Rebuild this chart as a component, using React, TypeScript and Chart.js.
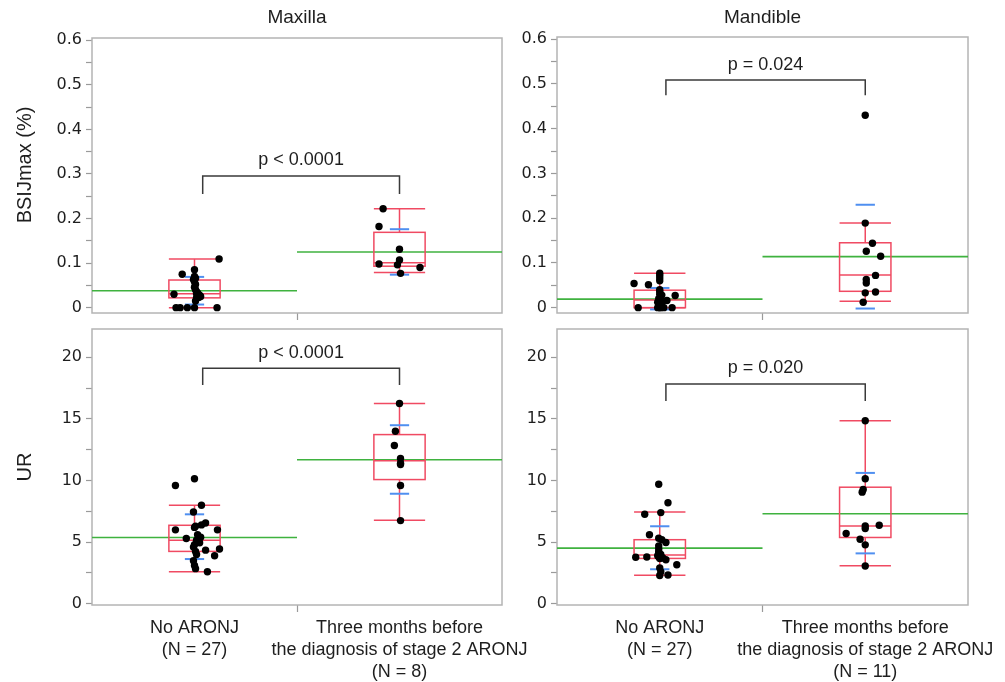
import React, { useEffect, useRef } from "react";
import { Chart, registerables } from "chart.js";

Chart.register(...registerables);

// ---------------- data ----------------
const categories = ["No ARONJ", "Three months before the diagnosis of stage 2 ARONJ"];

const xLabelsMaxilla = [["No ARONJ", "(N = 27)"], ["Three months before", "the diagnosis of stage 2 ARONJ", "(N = 8)"]];
const xLabelsMandible = [["No ARONJ", "(N = 27)"], ["Three months before", "the diagnosis of stage 2 ARONJ", "(N = 11)"]];

const bsiTickValues = [0, 0.05, 0.1, 0.15, 0.2, 0.25, 0.3, 0.35, 0.4, 0.45, 0.5, 0.55, 0.6];
const bsiTickLabels = ["0", "", "0.1", "", "0.2", "", "0.3", "", "0.4", "", "0.5", "", "0.6"];
const urTickValues = [0, 2.5, 5, 7.5, 10, 12.5, 15, 17.5, 20];
const urTickLabels = ["0", "", "5", "", "10", "", "15", "", "20"];

// Maxilla BSIJmax
const maxBsiNo = [0.109, 0.085, 0.075, 0.07, 0.066, 0.064, 0.063, 0.058, 0.052, 0.046, 0.04, 0.036, 0.033, 0.031, 0.03, 0.029, 0.028, 0.027, 0.025, 0.023, 0.022, 0.015, 0, 0, 0, 0, 0];
const maxBsiNoJitter = [0.12, 0, -0.06, 0, 0.005, 0, -0.005, 0, 0.005, 0, 0.005, 0.01, 0.015, 0.01, -0.1, 0.02, 0.025, 0.015, 0.03, 0.02, 0.01, 0.005, -0.09, -0.07, -0.035, 0, 0.11];
const maxBsiPre = [0.222, 0.182, 0.131, 0.107, 0.098, 0.096, 0.09, 0.077];
const maxBsiPreJitter = [-0.08, -0.1, 0, 0, -0.1, -0.01, 0.1, 0.005];
const maxBsiNoBox = [0, 0.022, 0.031, 0.062, 0.109];
const maxBsiPreBox = [0.079, 0.093, 0.101, 0.169, 0.222];
const maxBsiMeans = [0.038, 0.125];
const maxBsiNoSd = [0.007, 0.069];
const maxBsiPreSd = [0.074, 0.176];

// Mandible BSIJmax
const manBsiNo = [0.077, 0.072, 0.066, 0.06, 0.054, 0.051, 0.04, 0.036, 0.03, 0.028, 0.027, 0.024, 0.02, 0.017, 0.016, 0.015, 0.012, 0.01, 0.006, 0.003, 0.001, 0, 0, 0, 0, 0, 0];
const manBsiNoJitter = [0, 0, 0, 0, -0.125, -0.055, 0, 0, 0, 0.01, 0.075, 0.005, -0.005, 0.005, 0.035, 0, -0.01, 0.01, 0, 0.005, 0, -0.105, -0.01, 0.005, 0, 0.02, 0.06];
const manBsiPre = [0.43, 0.189, 0.144, 0.126, 0.115, 0.072, 0.063, 0.055, 0.035, 0.033, 0.012];
const manBsiPreJitter = [0, 0, 0.035, 0.005, 0.075, 0.05, 0.005, 0.005, 0.05, 0, -0.01];
const manBsiNoBox = [0, 0, 0.017, 0.039, 0.077];
const manBsiPreBox = [0.014, 0.0365, 0.073, 0.145, 0.189];
const manBsiMeans = [0.019, 0.114];
const manBsiNoSd = [-0.004, 0.044];
const manBsiPreSd = [-0.002, 0.23];

// Maxilla UR
const maxUrNo = [10.15, 9.6, 8.0, 7.45, 6.55, 6.4, 6.3, 6.2, 6.0, 6.0, 5.6, 5.4, 5.3, 5.15, 5.05, 4.95, 4.8, 4.6, 4.45, 4.35, 4.25, 4.0, 3.9, 3.5, 3.1, 2.85, 2.6];
const maxUrNoJitter = [0, -0.093, 0.034, -0.005, 0.054, 0.034, 0.005, 0, -0.093, 0.112, 0.015, 0.03, -0.04, 0.01, 0.02, 0.025, 0, -0.005, 0.122, 0.054, 0.005, 0.01, 0.098, -0.005, 0, 0.005, 0.063];
const maxUrPre = [16.25, 14.0, 12.85, 11.8, 11.4, 11.3, 9.6, 6.75];
const maxUrPreJitter = [0, -0.02, -0.025, 0.005, 0.005, 0.005, 0.005, 0.005];
const maxUrNoBox = [2.6, 4.25, 5.15, 6.37, 8.0];
const maxUrPreBox = [6.77, 10.08, 11.6, 13.73, 16.26];
const maxUrMeans = [5.38, 11.69];
const maxUrNoSd = [3.63, 7.26];
const maxUrPreSd = [8.93, 14.49];

// Mandible UR
const manUrNo = [9.7, 8.2, 7.4, 7.26, 5.6, 5.32, 5.2, 4.97, 4.7, 4.44, 4.22, 4.1, 4.0, 3.95, 3.9, 3.85, 3.82, 3.8, 3.77, 3.72, 3.68, 3.57, 3.17, 2.9, 2.6, 2.34, 2.3];
const manUrNoJitter = [-0.005, 0.04, 0.005, -0.073, -0.05, -0.005, 0.01, 0.03, -0.005, -0.005, -0.005, -0.005, 0.005, 0, -0.01, 0.005, -0.005, -0.063, -0.117, 0.015, 0, 0.03, 0.083, 0, 0.005, 0.04, 0];
const manUrPre = [14.85, 10.15, 9.27, 9.06, 6.37, 6.32, 6.1, 5.7, 5.24, 4.78, 3.07];
const manUrPreJitter = [0, 0, -0.01, -0.015, 0.068, 0, 0, -0.093, -0.025, 0, 0];
const manUrNoBox = [2.31, 3.68, 3.95, 5.2, 7.44];
const manUrPreBox = [3.09, 5.38, 6.32, 9.46, 14.86];
const manUrMeans = [4.52, 7.31];
const manUrNoSd = [2.8, 6.29];
const manUrPreSd = [4.09, 10.62];

const pValues = ["p < 0.0001", "p = 0.024", "p < 0.0001", "p = 0.020"];

// ---------------- styles ----------------
const RED = "#f04a62";
const BLUE = "#4f8ff0";
const GREEN = "#3fb23f";
const FRAME = "#b4b4b4";
const TICK = "#9a9a9a";
const TEXT = "#1e1e1e";
const SANS = "'Liberation Sans', Arial, sans-serif";
const VERDANA = "'DejaVu Sans', Verdana, sans-serif";
const BOX_HALF = 0.125;
const SD_HALF = 0.047;

type Group = { values: number[]; jitter: number[]; box: number[]; mean: number; sd: number[] };
type Spec = {
  key: string;
  left: number; top: number; w: number; h: number;
  area: { left: number; top: number; right: number; bottom: number };
  yMin: number; yMax: number;
  yTicks: number[]; yLabels: string[];
  xLabels: string[][] | null;
  groups: Group[];
  bracket: { x0: number; x1: number; low: number; high: number; textY: number; text: string };
  title?: string;
  yTitle?: { text: string; x: number; y: number };
};

function grp(values: number[], jitter: number[], box: number[], mean: number, sd: number[]): Group {
  return { values, jitter, box, mean, sd };
}

const specs: Spec[] = [
  {
    key: "tl", left: 0, top: 0, w: 540, h: 320,
    area: { left: 92, top: 38, right: 502, bottom: 313 },
    yMin: -0.012, yMax: 0.605, yTicks: bsiTickValues, yLabels: bsiTickLabels, xLabels: null,
    groups: [
      grp(maxBsiNo, maxBsiNoJitter, maxBsiNoBox, maxBsiMeans[0], maxBsiNoSd),
      grp(maxBsiPre, maxBsiPreJitter, maxBsiPreBox, maxBsiMeans[1], maxBsiPreSd),
    ],
    bracket: { x0: 0.54, x1: 1.5, low: 0.255, high: 0.2955, textY: 0.331, text: pValues[0] },
    title: "Maxilla",
    yTitle: { text: "BSIJmax (%)", x: 25, y: 165 },
  },
  {
    key: "tr", left: 505, top: 0, w: 500, h: 320,
    area: { left: 52, top: 37, right: 463, bottom: 313 },
    yMin: -0.012, yMax: 0.605, yTicks: bsiTickValues, yLabels: bsiTickLabels, xLabels: null,
    groups: [
      grp(manBsiNo, manBsiNoJitter, manBsiNoBox, manBsiMeans[0], manBsiNoSd),
      grp(manBsiPre, manBsiPreJitter, manBsiPreBox, manBsiMeans[1], manBsiPreSd),
    ],
    bracket: { x0: 0.53, x1: 1.5, low: 0.475, high: 0.509, textY: 0.542, text: pValues[1] },
    title: "Mandible",
  },
  {
    key: "bl", left: 0, top: 320, w: 540, h: 362,
    area: { left: 92, top: 9, right: 502, bottom: 285 },
    yMin: -0.1, yMax: 22.3, yTicks: urTickValues, yLabels: urTickLabels, xLabels: xLabelsMaxilla,
    groups: [
      grp(maxUrNo, maxUrNoJitter, maxUrNoBox, maxUrMeans[0], maxUrNoSd),
      grp(maxUrPre, maxUrPreJitter, maxUrPreBox, maxUrMeans[1], maxUrPreSd),
    ],
    bracket: { x0: 0.54, x1: 1.5, low: 17.76, high: 19.11, textY: 20.33, text: pValues[2] },
    yTitle: { text: "UR", x: 25, y: 147 },
  },
  {
    key: "br", left: 505, top: 320, w: 500, h: 362,
    area: { left: 52, top: 9, right: 463, bottom: 285 },
    yMin: -0.1, yMax: 22.3, yTicks: urTickValues, yLabels: urTickLabels, xLabels: xLabelsMandible,
    groups: [
      grp(manUrNo, manUrNoJitter, manUrNoBox, manUrMeans[0], manUrNoSd),
      grp(manUrPre, manUrPreJitter, manUrPreBox, manUrMeans[1], manUrPreSd),
    ],
    bracket: { x0: 0.53, x1: 1.5, low: 16.46, high: 17.84, textY: 19.11, text: pValues[3] },
  },
];

function makePlugin(spec: Spec) {
  const line = (ctx: CanvasRenderingContext2D, x0: number, y0: number, x1: number, y1: number) => {
    ctx.beginPath();
    ctx.moveTo(x0, y0);
    ctx.lineTo(x1, y1);
    ctx.stroke();
  };
  return {
    id: "panelDecor_" + spec.key,
    beforeDatasetsDraw(chart: any) {
      const { ctx, chartArea: a, scales } = chart;
      const xs = scales.x;
      const ys = scales.y;
      ctx.save();
      // frame
      ctx.strokeStyle = FRAME;
      ctx.lineWidth = 1.5;
      ctx.strokeRect(a.left, a.top, a.right - a.left, a.bottom - a.top);
      // mean lines
      spec.groups.forEach((g, i) => {
        const ym = ys.getPixelForValue(g.mean);
        ctx.strokeStyle = GREEN;
        ctx.lineWidth = 1.6;
        line(ctx, xs.getPixelForValue(i), ym, xs.getPixelForValue(i + 1), ym);
      });
      // box plots
      spec.groups.forEach((g, i) => {
        const c = i + 0.5;
        const xl = xs.getPixelForValue(c - BOX_HALF);
        const xr = xs.getPixelForValue(c + BOX_HALF);
        const xc = xs.getPixelForValue(c);
        const [lo, q1, med, q3, hi] = g.box.map((v) => ys.getPixelForValue(v));
        ctx.strokeStyle = RED;
        ctx.lineWidth = 1.5;
        ctx.strokeRect(xl, q3, xr - xl, q1 - q3);
        line(ctx, xl, med, xr, med);
        line(ctx, xc, q3, xc, hi);
        line(ctx, xc, q1, xc, lo);
        line(ctx, xl, hi, xr, hi);
        line(ctx, xl, lo, xr, lo);
        ctx.strokeStyle = BLUE;
        ctx.lineWidth = 2;
        const bl = xs.getPixelForValue(c - SD_HALF);
        const br = xs.getPixelForValue(c + SD_HALF);
        g.sd.forEach((v) => {
          const yv = ys.getPixelForValue(v);
          line(ctx, bl, yv, br, yv);
        });
      });
      // bracket
      const b = spec.bracket;
      const bx0 = xs.getPixelForValue(b.x0);
      const bx1 = xs.getPixelForValue(b.x1);
      const byLow = ys.getPixelForValue(b.low);
      const byHigh = ys.getPixelForValue(b.high);
      ctx.strokeStyle = "#3a3a3a";
      ctx.lineWidth = 1.5;
      ctx.beginPath();
      ctx.moveTo(bx0, byLow);
      ctx.lineTo(bx0, byHigh);
      ctx.lineTo(bx1, byHigh);
      ctx.lineTo(bx1, byLow);
      ctx.stroke();
      ctx.fillStyle = TEXT;
      ctx.font = `18px ${SANS}`;
      ctx.textAlign = "center";
      ctx.textBaseline = "middle";
      ctx.fillText(b.text, (bx0 + bx1) / 2, ys.getPixelForValue(b.textY));
      ctx.restore();
    },
    afterDraw(chart: any) {
      const { ctx, chartArea: a } = chart;
      ctx.save();
      ctx.fillStyle = TEXT;
      ctx.textAlign = "center";
      ctx.textBaseline = "middle";
      if (spec.title) {
        ctx.font = `19px ${SANS}`;
        ctx.fillText(spec.title, (a.left + a.right) / 2, 18);
      }
      if (spec.yTitle) {
        ctx.font = `20px ${SANS}`;
        ctx.translate(spec.yTitle.x, spec.yTitle.y);
        ctx.rotate(-Math.PI / 2);
        ctx.fillText(spec.yTitle.text, 0, 0);
      }
      ctx.restore();
    },
  };
}

function buildConfig(spec: Spec): any {
  const datasets = spec.groups.map((g, i) => ({
    label: categories[i],
    data: g.values.map((v, k) => ({ x: i + 0.5 + g.jitter[k], y: v })),
    pointRadius: 3.7,
    pointHoverRadius: 3.7,
    backgroundColor: "#000",
    borderWidth: 0,
  }));
  const xTickValues = spec.xLabels ? [0.5, 1, 1.5] : [1];
  const xAxisHeight = spec.h - spec.area.bottom;
  return {
    type: "scatter",
    data: { datasets },
    options: {
      animation: false,
      responsive: false,
      maintainAspectRatio: false,
      events: [],
      layout: { padding: { left: 0, top: spec.area.top, right: spec.w - spec.area.right, bottom: 0 } },
      plugins: { legend: { display: false }, tooltip: { enabled: false }, title: { display: false } },
      scales: {
        x: {
          type: "linear",
          min: 0,
          max: 2,
          bounds: "data",
          afterBuildTicks: (s: any) => {
            s.ticks = xTickValues.map((v) => ({ value: v }));
          },
          afterFit: (s: any) => {
            s.height = xAxisHeight;
            s.paddingLeft = 0; s.paddingRight = 0; s.paddingTop = 0; s.paddingBottom = 0;
          },
          border: { display: false },
          grid: {
            drawOnChartArea: false,
            drawTicks: true,
            tickLength: 7,
            tickWidth: 1.2,
            tickColor: (c: any) => (c.tick && c.tick.value === 1 ? TICK : "rgba(0,0,0,0)"),
          },
          ticks: {
            autoSkip: false,
            maxRotation: 0,
            minRotation: 0,
            padding: 5,
            color: TEXT,
            font: { family: SANS, size: 18, lineHeight: 22 / 18 },
            callback: (v: number) => {
              if (!spec.xLabels) return "";
              if (Math.abs(v - 0.5) < 1e-6) return spec.xLabels[0];
              if (Math.abs(v - 1.5) < 1e-6) return spec.xLabels[1];
              return "";
            },
          },
        },
        y: {
          type: "linear",
          min: spec.yMin,
          max: spec.yMax,
          bounds: "data",
          afterBuildTicks: (s: any) => {
            s.ticks = spec.yTicks.map((v) => ({ value: v }));
          },
          afterFit: (s: any) => {
            s.width = spec.area.left;
            s.paddingLeft = 0; s.paddingRight = 0; s.paddingTop = 0; s.paddingBottom = 0;
          },
          border: { display: false },
          grid: { drawOnChartArea: false, drawTicks: true, tickLength: 6, tickWidth: 1.2, tickColor: TICK },
          ticks: {
            autoSkip: false,
            padding: 4,
            color: TEXT,
            font: { family: VERDANA, size: 16 },
            callback: (_v: number, idx: number) => spec.yLabels[idx] ?? "",
          },
        },
      },
    },
    plugins: [makePlugin(spec)],
  };
}

function Panel({ spec }: { spec: Spec }) {
  const ref = useRef<HTMLCanvasElement | null>(null);
  useEffect(() => {
    if (!ref.current) return;
    const chart = new Chart(ref.current, buildConfig(spec));
    return () => chart.destroy();
  }, [spec]);
  return (
    <canvas
      ref={ref}
      width={spec.w}
      height={spec.h}
      style={{ position: "absolute", left: spec.left, top: spec.top, width: spec.w, height: spec.h }}
    />
  );
}

export default function App() {
  return (
    <div style={{ position: "absolute", left: 0, top: 0, width: 1005, height: 682, background: "#fff", overflow: "hidden" }}>
      {specs.map((s) => (
        <Panel key={s.key} spec={s} />
      ))}
    </div>
  );
}
